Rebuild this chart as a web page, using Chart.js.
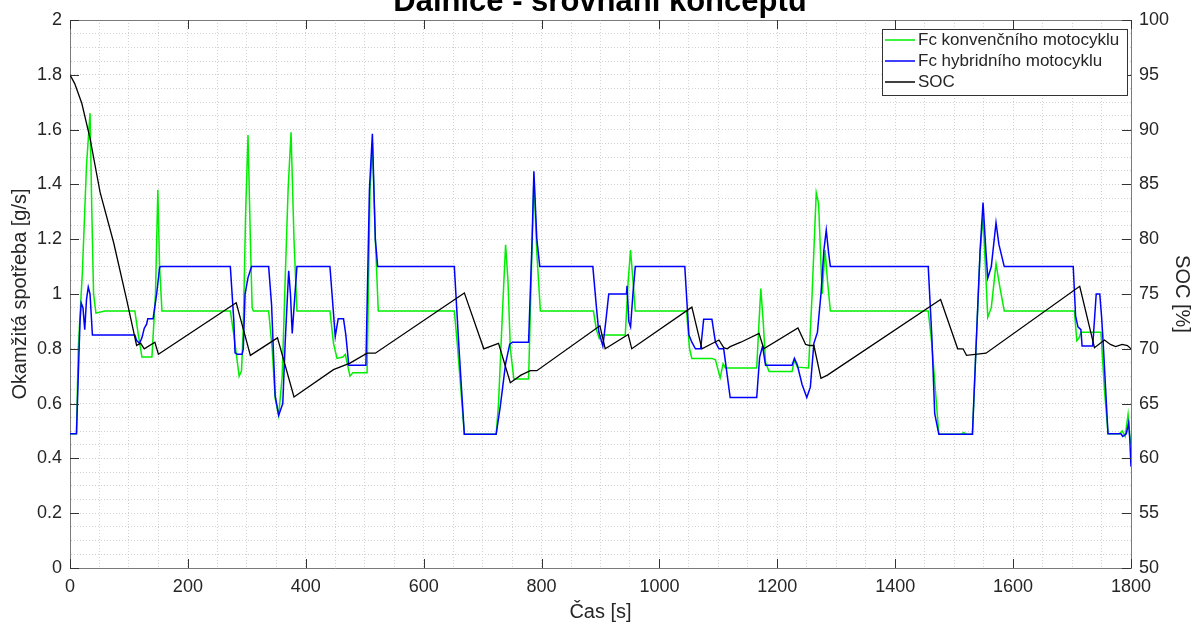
<!DOCTYPE html>
<html>
<head>
<meta charset="utf-8">
<script src="https://cdn.jsdelivr.net/npm/chart.js@4/dist/chart.umd.min.js"></script>
<style>
  html, body { margin: 0; padding: 0; background: #fff; overflow: hidden; }
  #wrap { position: relative; width: 1200px; height: 626px; overflow: hidden; }
  #chart { position: absolute; left: 0; top: -24px; }
</style>
</head>
<body>
<div id="wrap"><canvas id="chart" width="1200" height="650"></canvas></div>
<script>
// Dálnice - srovnání konceptů
// Fc conventional vs hybrid motorcycle, plus battery SOC on right axis

// ---------------------------------------------------------------------------
// Data
// ---------------------------------------------------------------------------

const convTime = [0, 11, 14, 21, 28, 34, 37, 40, 44, 59, 110, 116, 122, 139, 145, 149, 152, 156,
  272, 278, 287, 291, 294, 298, 302, 306, 309, 311, 337, 343, 348, 354, 360, 365, 370, 375, 380, 385,
  441, 447, 453, 463, 467, 475, 480, 504, 509, 513, 518, 523, 652, 657, 669, 723, 727, 734, 739, 743,
  747, 753, 778, 783, 787, 792, 798, 888, 893, 898, 902, 942, 947, 951, 955, 959, 1046, 1051, 1055,
  1089, 1095, 1103, 1108, 1112, 1165, 1169, 1172, 1176, 1180, 1186, 1225, 1229, 1234, 1253, 1259,
  1266, 1270, 1276, 1281, 1285, 1290, 1456, 1462, 1474, 1512, 1516, 1520, 1531, 1537, 1544, 1549,
  1553, 1557, 1563, 1571, 1578, 1585, 1704, 1708, 1712, 1715, 1749, 1755, 1761, 1780, 1785, 1790,
  1795, 1798, 1800];
const convFc = [0.49, 0.49, 0.8, 1.08, 1.47, 1.66, 1.3, 1.0, 0.93, 0.938, 0.938, 0.85, 0.77, 0.77, 1.0,
  1.38, 1.1, 0.938, 0.938, 0.85, 0.7, 0.72, 0.88, 1.3, 1.58, 1.2, 0.95, 0.938, 0.938, 0.8, 0.62, 0.557,
  0.7, 1.05, 1.38, 1.59, 1.2, 0.938, 0.938, 0.82, 0.765, 0.77, 0.78, 0.7, 0.713, 0.713, 1.38, 1.55, 1.2,
  0.938, 0.938, 0.82, 0.488, 0.488, 0.6, 0.95, 1.18, 1.05, 0.8, 0.69, 0.69, 1.1, 1.42, 1.15, 0.938,
  0.938, 0.87, 0.837, 0.85, 0.85, 1.05, 1.16, 1.05, 0.938, 0.938, 0.8, 0.765, 0.765, 0.76, 0.694, 0.745,
  0.73, 0.73, 0.9, 1.02, 0.9, 0.75, 0.717, 0.717, 0.76, 0.733, 0.73, 1.0, 1.37, 1.33, 1.0, 1.16, 1.05,
  0.938, 0.938, 0.82, 0.488, 0.488, 0.495, 0.488, 0.488, 0.8, 1.15, 1.28, 1.1, 0.915, 0.95, 1.11, 1.02,
  0.938, 0.938, 0.83, 0.84, 0.86, 0.86, 0.65, 0.49, 0.49, 0.5, 0.48, 0.56, 0.48, 0.45];

const hybTime = [0, 11, 14, 17, 19, 22, 25, 28, 31, 34, 38, 110, 113, 118, 122, 126, 130, 132, 141,
  147, 152, 154, 272, 278, 280, 284, 292, 294, 297, 302, 308, 337, 342, 348, 354, 361, 365, 371, 374,
  377, 381, 385, 441, 450, 455, 464, 468, 473, 502, 508, 513, 518, 522, 652, 660, 669, 723, 730, 739,
  746, 751, 778, 784, 787, 792, 797, 887, 893, 897, 904, 909, 914, 944, 945, 948, 951, 955, 959, 1043,
  1050, 1055, 1061, 1070, 1075, 1089, 1095, 1101, 1109, 1120, 1165, 1170, 1175, 1180, 1225, 1229, 1234,
  1242, 1250, 1256, 1262, 1268, 1274, 1279, 1283, 1287, 1290, 1456, 1462, 1467, 1474, 1531, 1537, 1544,
  1549, 1554, 1557, 1563, 1568, 1571, 1576, 1585, 1702, 1706, 1710, 1715, 1717, 1735, 1741, 1747, 1750,
  1753, 1757, 1761, 1783, 1786, 1792, 1796, 1798, 1800];
const hybFc = [0.49, 0.49, 0.7, 0.9, 0.967, 0.95, 0.87, 0.98, 1.025, 1.0, 0.85, 0.85, 0.83, 0.82, 0.84,
  0.875, 0.89, 0.91, 0.91, 1.0, 1.097, 1.1, 1.1, 0.9, 0.785, 0.78, 0.78, 0.8, 1.0, 1.06, 1.1, 1.1, 0.96,
  0.63, 0.557, 0.6, 0.82, 1.085, 1.0, 0.856, 0.98, 1.1, 1.1, 0.845, 0.91, 0.91, 0.85, 0.74, 0.74, 1.38,
  1.585, 1.2, 1.1, 1.1, 0.8, 0.488, 0.488, 0.59, 0.746, 0.817, 0.824, 0.824, 1.2, 1.448, 1.2, 1.1, 1.1,
  0.954, 0.863, 0.81, 0.9, 1.0, 1.0, 1.03, 0.9, 0.88, 1.0, 1.1, 1.1, 0.85, 0.824, 0.8, 0.8, 0.908, 0.908,
  0.824, 0.8, 0.8, 0.622, 0.622, 0.77, 0.81, 0.74, 0.74, 0.765, 0.74, 0.67, 0.622, 0.66, 0.82, 0.86, 1.0,
  1.16, 1.233, 1.15, 1.1, 1.1, 0.85, 0.563, 0.488, 0.488, 0.8, 1.16, 1.334, 1.15, 1.058, 1.1, 1.2, 1.26,
  1.18, 1.1, 1.1, 0.92, 0.88, 0.87, 0.81, 0.81, 1.0, 1.0, 0.92, 0.815, 0.65, 0.49, 0.49, 0.48, 0.49, 0.53,
  0.47, 0.37];

const socTime = [0, 8, 20, 34, 51, 74, 96, 113, 116, 120, 126, 144, 150, 282, 306, 352, 380, 447, 475,
  504, 518, 669, 702, 727, 747, 765, 781, 792, 899, 908, 947, 953, 1055, 1072, 1101, 1109, 1115, 1120,
  1138, 1169, 1177, 1235, 1248, 1255, 1262, 1274, 1285, 1477, 1506, 1515, 1521, 1554, 1713, 1738, 1755,
  1765, 1774, 1785, 1794, 1800];
const socValues = [95.0, 94.2, 92.4, 89.2, 84.3, 79.7, 74.5, 70.3, 70.4, 70.5, 70.0, 70.6, 69.5, 74.2,
  69.4, 71.0, 65.6, 68.1, 68.7, 69.6, 69.6, 75.1, 70.0, 70.5, 66.9, 67.6, 68.0, 68.0, 72.1, 70.0, 71.3,
  70.0, 73.8, 70.0, 70.8, 70.1, 70.0, 70.2, 70.6, 71.4, 70.0, 71.9, 70.4, 70.3, 70.3, 67.3, 67.6, 74.5,
  70.0, 70.0, 69.4, 69.6, 75.7, 70.1, 70.8, 70.4, 70.2, 70.4, 70.3, 70.0];

const seriesLabels = ['Fc konvenčního motocyklu', 'Fc hybridního motocyklu', 'SOC'];
const chartTitle = 'Dálnice - srovnání konceptů';

// ---------------------------------------------------------------------------
// Helpers
// ---------------------------------------------------------------------------

const FONT = '"Liberation Sans", Arial, Helvetica, sans-serif';
const TEXT_COLOR = '#262626';
const AXIS_COLOR = '#7a7a7a';

function toPoints(xs, ys) {
  return xs.map((x, i) => ({ x: x, y: ys[i] }));
}

function isMultiple(v, step) {
  const r = Math.round(v / step * 1000) / 1000;
  return Math.abs(r - Math.round(r)) < 1e-6;
}

// Legend box inside the plot (top right, MATLAB style)
const insideLegend = {
  id: 'insideLegend',
  afterDraw(chart) {
    const { ctx, chartArea } = chart;
    const w = 245, h = 66;
    const left = chartArea.right - 4 - w;
    const top = chartArea.top + 9;
    ctx.save();
    ctx.fillStyle = '#fff';
    ctx.fillRect(left, top, w, h);
    ctx.strokeStyle = '#333';
    ctx.lineWidth = 1;
    ctx.strokeRect(left + 0.5, top + 0.5, w, h);
    ctx.font = '17px ' + FONT;
    ctx.textBaseline = 'middle';
    ctx.fillStyle = TEXT_COLOR;
    chart.data.datasets.forEach((ds, i) => {
      const y = top + 11 + i * 21;
      ctx.strokeStyle = ds.borderColor;
      ctx.lineWidth = 1.5;
      ctx.beginPath();
      ctx.moveTo(left + 3, y);
      ctx.lineTo(left + 33, y);
      ctx.stroke();
      ctx.fillText(ds.label, left + 36, y);
    });
    ctx.restore();
  }
};

// Top border and inward tick marks
const matlabBox = {
  id: 'matlabBox',
  afterDatasetsDraw(chart) {
    const { ctx, chartArea, scales } = chart;
    const len = 9;
    ctx.save();
    ctx.strokeStyle = AXIS_COLOR;
    ctx.lineWidth = 1;
    ctx.beginPath();
    ctx.moveTo(chartArea.left, chartArea.top + 0.5);
    ctx.lineTo(chartArea.right, chartArea.top + 0.5);
    ctx.stroke();

    ctx.strokeStyle = '#333';
    ctx.beginPath();
    scales.x.ticks.forEach((t) => {
      if (!isMultiple(t.value, 200)) return;
      const px = Math.round(scales.x.getPixelForValue(t.value)) + 0.5;
      ctx.moveTo(px, chartArea.bottom);
      ctx.lineTo(px, chartArea.bottom - len);
      ctx.moveTo(px, chartArea.top);
      ctx.lineTo(px, chartArea.top + len);
    });
    scales.y.ticks.forEach((t) => {
      if (!isMultiple(t.value, 0.2)) return;
      const py = Math.round(scales.y.getPixelForValue(t.value)) + 0.5;
      ctx.moveTo(chartArea.left, py);
      ctx.lineTo(chartArea.left + len, py);
    });
    scales.y1.ticks.forEach((t) => {
      const py = Math.round(scales.y1.getPixelForValue(t.value)) + 0.5;
      ctx.moveTo(chartArea.right, py);
      ctx.lineTo(chartArea.right - len, py);
    });
    ctx.stroke();
    ctx.restore();
  }
};

// ---------------------------------------------------------------------------
// Chart
// ---------------------------------------------------------------------------

const gridOpts = {
  color: '#d2d2d2',
  lineWidth: 1,
  drawTicks: false
};

const tickFont = { family: FONT, size: 18 };
const labelFont = { family: FONT, size: 20 };

new Chart(document.getElementById('chart'), {
  type: 'line',
  data: {
    datasets: [
      {
        label: seriesLabels[0],
        data: toPoints(convTime, convFc),
        borderColor: '#00ee00',
        borderWidth: 1.5,
        yAxisID: 'y',
        order: 3
      },
      {
        label: seriesLabels[1],
        data: toPoints(hybTime, hybFc),
        borderColor: '#0000ff',
        borderWidth: 1.5,
        yAxisID: 'y',
        order: 2
      },
      {
        label: seriesLabels[2],
        data: toPoints(socTime, socValues),
        borderColor: '#000000',
        borderWidth: 1.3,
        yAxisID: 'y1',
        order: 1
      }
    ]
  },
  plugins: [matlabBox, insideLegend],
  options: {
    responsive: false,
    animation: false,
    events: [],
    elements: {
      point: { radius: 0 },
      line: { tension: 0, fill: false }
    },
    layout: { padding: 0 },
    plugins: {
      legend: { display: false },
      tooltip: { enabled: false },
      title: {
        display: true,
        text: chartTitle,
        color: '#000',
        font: { family: FONT, size: 31, weight: 'bold', lineHeight: 1 },
        padding: { top: 10.8, bottom: 2.2 }
      }
    },
    scales: {
      x: {
        type: 'linear',
        min: 0,
        max: 1800,
        afterFit: (scale) => { scale.height = 58; },
        ticks: {
          stepSize: 50,
          autoSkip: false,
          maxRotation: 0,
          padding: 8,
          color: TEXT_COLOR,
          font: tickFont,
          callback: (v) => (isMultiple(v, 200) ? String(v) : '')
        },
        grid: gridOpts,
        border: { display: true, color: AXIS_COLOR, dash: [1, 2] },
        title: {
          display: true,
          text: 'Čas [s]',
          color: TEXT_COLOR,
          font: labelFont,
          padding: { top: 0, bottom: 2 }
        }
      },
      y: {
        position: 'left',
        min: 0,
        max: 2,
        afterFit: (scale) => { scale.width = 70; },
        ticks: {
          stepSize: 0.05,
          autoSkip: false,
          padding: 8,
          color: TEXT_COLOR,
          font: tickFont,
          callback: (v) => (isMultiple(v, 0.2) ? String(Math.round(v * 10) / 10) : '')
        },
        grid: gridOpts,
        border: { display: true, color: AXIS_COLOR, dash: [1, 2] },
        title: {
          display: true,
          text: 'Okamžitá spotřeba [g/s]',
          color: TEXT_COLOR,
          font: labelFont,
          padding: { top: 8, bottom: 0 }
        }
      },
      y1: {
        position: 'right',
        min: 50,
        max: 100,
        afterFit: (scale) => { scale.width = 69; },
        ticks: {
          stepSize: 5,
          autoSkip: false,
          padding: 8,
          color: TEXT_COLOR,
          font: tickFont
        },
        grid: { drawOnChartArea: false, drawTicks: false },
        border: { display: true, color: AXIS_COLOR },
        title: {
          display: true,
          text: 'SOC [%]',
          color: TEXT_COLOR,
          font: labelFont,
          padding: { top: 6, bottom: 0 }
        }
      }
    }
  }
});
</script>
</body>
</html>
